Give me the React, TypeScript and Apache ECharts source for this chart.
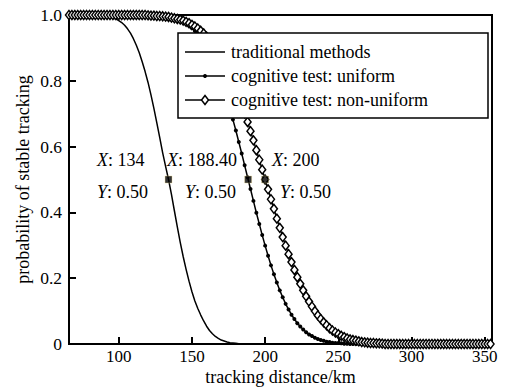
import React, { useEffect, useRef } from "react";
import * as echarts from "echarts";

// Sampling distances (km) of the two marker curves
const distances = [
  66, 68, 70, 72, 74, 76, 78, 80, 82, 84, 86, 88, 90, 92, 94, 96, 98, 100, 102, 104,
  106, 108, 110, 112, 114, 116, 118, 120, 122, 124, 126, 128, 130, 132, 134, 136, 138, 140, 142, 144,
  146, 148, 150, 152, 154, 156, 158, 160, 162, 164, 166, 168, 170, 172, 174, 176, 178, 180, 182, 184,
  186, 188, 190, 192, 194, 196, 198, 200, 202, 204, 206, 208, 210, 212, 214, 216, 218, 220, 222, 224,
  226, 228, 230, 232, 234, 236, 238, 240, 242, 244, 246, 248, 250, 252, 254, 256, 258, 260, 262, 264,
  266, 268, 270, 272, 274, 276, 278, 280, 282, 284, 286, 288, 290, 292, 294, 296, 298, 300, 302, 304,
  306, 308, 310, 312, 314, 316, 318, 320, 322, 324, 326, 328, 330, 332, 334, 336, 338, 340, 342, 344,
  346, 348, 350, 352, 354,
];

// cognitive test: uniform
const uniformValues = [
  1, 1, 1, 1, 1, 1, 1, 1, 1, 1, 1, 1, 1, 1, 1, 1, 1, 1, 1, 1,
  1, 1, 1, 1, 1, 1, 1, 0.999, 0.999, 0.998, 0.998, 0.997, 0.996, 0.995, 0.993, 0.991, 0.989, 0.986, 0.983, 0.978,
  0.973, 0.967, 0.96, 0.951, 0.941, 0.93, 0.917, 0.902, 0.885, 0.866, 0.846, 0.823, 0.798, 0.772, 0.744, 0.714, 0.682, 0.649, 0.614, 0.579,
  0.543, 0.507, 0.471, 0.435, 0.399, 0.365, 0.331, 0.299, 0.268, 0.239, 0.212, 0.187, 0.163, 0.142, 0.122, 0.105, 0.089, 0.076, 0.063, 0.053,
  0.044, 0.036, 0.029, 0.024, 0.019, 0.015, 0.012, 0.01, 0.007, 0.006, 0.004, 0.003, 0.003, 0.002, 0.001, 0.001, 0, 0, 0, 0,
  0, 0, 0, 0, 0, 0, 0, 0, 0, 0, 0, 0, 0, 0, 0, 0, 0, 0, 0, 0,
  0, 0, 0, 0, 0, 0, 0, 0, 0, 0, 0, 0, 0, 0, 0, 0, 0, 0, 0, 0,
  0, 0, 0, 0, 0,
];

// cognitive test: non-uniform
const nonUniformValues = [
  1, 1, 1, 1, 1, 1, 1, 1, 1, 1, 1, 1, 1, 1, 1, 1, 1, 1, 1, 1,
  1, 1, 1, 1, 1, 1, 1, 0.999, 0.998, 0.998, 0.997, 0.997, 0.996, 0.995, 0.994, 0.992, 0.99, 0.988, 0.986, 0.983,
  0.979, 0.975, 0.97, 0.965, 0.959, 0.952, 0.944, 0.934, 0.924, 0.913, 0.9, 0.886, 0.871, 0.855, 0.837, 0.817, 0.797, 0.775, 0.751, 0.727,
  0.701, 0.675, 0.647, 0.619, 0.589, 0.56, 0.53, 0.5, 0.47, 0.44, 0.411, 0.381, 0.353, 0.325, 0.299, 0.273, 0.249, 0.225, 0.203, 0.183,
  0.163, 0.145, 0.129, 0.114, 0.1, 0.087, 0.076, 0.066, 0.057, 0.048, 0.041, 0.035, 0.03, 0.025, 0.021, 0.017, 0.014, 0.012, 0.01, 0.008,
  0.006, 0.005, 0.004, 0.003, 0.003, 0.002, 0.002, 0.001, 0, 0, 0, 0, 0, 0, 0, 0, 0, 0, 0, 0,
  0, 0, 0, 0, 0, 0, 0, 0, 0, 0, 0, 0, 0, 0, 0, 0, 0, 0, 0, 0,
  0, 0, 0, 0, 0,
];

// traditional methods (line only)
const traditionalDistances = [
  66, 84, 86, 88, 90, 92, 94, 96, 98, 100, 102, 104, 106, 108, 110, 112, 114, 116, 118, 120,
  122, 124, 126, 128, 130, 132, 134, 136, 138, 140, 142, 144, 146, 148, 150, 152, 154, 156, 158, 160,
  162, 164, 166, 168, 170, 172, 174, 176, 178, 180, 182, 184, 354,
];
const traditionalValues = [
  1, 1, 0.999, 0.998, 0.997, 0.996, 0.994, 0.991, 0.988, 0.983, 0.977, 0.969, 0.958, 0.945, 0.928, 0.908, 0.885, 0.858, 0.828, 0.795,
  0.757, 0.716, 0.672, 0.627, 0.581, 0.54, 0.5, 0.455, 0.405, 0.356, 0.309, 0.266, 0.227, 0.191, 0.159, 0.131, 0.108, 0.088, 0.07, 0.054,
  0.041, 0.031, 0.023, 0.017, 0.012, 0.009, 0.006, 0.004, 0.003, 0.002, 0.001, 0, 0,
];

// Data tips
const tipX = [134, 188.4, 200];
const tipY = [0.5, 0.5, 0.5];
const tipXLabels = ["134", "188.40", "200"];
const tipYLabels = ["0.50", "0.50", "0.50"];

const seriesNames = ["traditional methods", "cognitive test: uniform", "cognitive test: non-uniform"];
const xTickValues = [100, 150, 200, 250, 300, 350];
const yTickValues = [0, 0.2, 0.4, 0.6, 0.8, 1.0];

const FONT = "Liberation Serif";
const FS = 18;
const TICK_FS = 17.5;

export default function App() {
  const ref = useRef<HTMLDivElement>(null);

  useEffect(() => {
    if (!ref.current) return;
    const chart = echarts.init(ref.current, null, { renderer: "svg" });

    const pair = (xs: number[], ys: number[]) => xs.map((x, i) => [x, ys[i]]);

    const tipTextPos = [
      { x1: 97, x2: 97 },
      { x1: 167, x2: 185 },
      { x1: 272, x2: 280 },
    ];
    const rich = {
      i: { fontStyle: "italic", fontSize: FS, fontFamily: FONT, fill: "#000" },
      n: { fontSize: FS, fontFamily: FONT, fill: "#000" },
    };
    const graphics: any[] = [];
    tipXLabels.forEach((lab, i) => {
      graphics.push({
        type: "text",
        z: 20,
        x: tipTextPos[i].x1,
        y: 160,
        style: {
          text: `{i|X}{n|: ${lab}}`,
          rich,
          verticalAlign: "middle",
          fontSize: FS,
          fontFamily: FONT,
        },
      });
      graphics.push({
        type: "text",
        z: 20,
        x: tipTextPos[i].x2,
        y: 192,
        style: {
          text: `{i|Y}{n|: ${tipYLabels[i]}}`,
          rich,
          verticalAlign: "middle",
          fontSize: FS,
          fontFamily: FONT,
        },
      });
    });

    // Legend box (drawn by hand to match the boxed MATLAB-style legend)
    const legendRows = [52, 76, 100];
    graphics.push({
      type: "rect",
      z: 10,
      shape: { x: 178, y: 33, width: 310, height: 85 },
      style: { fill: "#fff", stroke: "#000", lineWidth: 1.5 },
    });
    legendRows.forEach((ry, i) => {
      graphics.push({
        type: "line",
        z: 11,
        shape: { x1: 185, y1: ry, x2: 225, y2: ry },
        style: { stroke: "#000", lineWidth: 1.5 },
      });
      graphics.push({
        type: "text",
        z: 11,
        x: 231,
        y: ry,
        style: {
          text: seriesNames[i],
          fontSize: FS,
          fontFamily: FONT,
          fill: "#000",
          verticalAlign: "middle",
        },
      });
    });
    graphics.push({
      type: "circle",
      z: 12,
      shape: { cx: 205, cy: legendRows[1], r: 2 },
      style: { fill: "#000" },
    });
    graphics.push({
      type: "polygon",
      z: 12,
      shape: {
        points: [
          [205, legendRows[2] - 4.5],
          [208.5, legendRows[2]],
          [205, legendRows[2] + 4.5],
          [201.5, legendRows[2]],
        ],
      },
      style: { fill: "#fff", stroke: "#000", lineWidth: 1.5 },
    });

    chart.setOption({
      animation: false,
      backgroundColor: "#fff",
      textStyle: { fontFamily: FONT },
      grid: {
        left: 69,
        right: 13,
        top: 15,
        bottom: 45,
        containLabel: false,
        outerBoundsMode: "none",
        show: true,
        borderColor: "#000",
        borderWidth: 2,
        backgroundColor: "transparent",
      },
      xAxis: {
        type: "value",
        min: 66,
        max: 355,
        name: "tracking distance/km",
        nameLocation: "middle",
        nameGap: 24,
        nameMoveOverlap: false,
        nameTextStyle: { fontSize: FS, fontFamily: FONT, color: "#000", verticalAlign: "top", lineHeight: 18 },
        axisLine: { show: true, lineStyle: { color: "#000", width: 2 } },
        axisTick: {
          show: true,
          inside: true,
          length: 7,
          customValues: xTickValues,
          lineStyle: { color: "#000", width: 2 },
        },
        axisLabel: {
          customValues: xTickValues,
          fontSize: 17,
          lineHeight: 17,
          fontFamily: FONT,
          color: "#000",
          margin: 4,
        },
        splitLine: { show: false },
      },
      yAxis: {
        type: "value",
        min: 0,
        max: 1,
        interval: 0.2,
        name: "probability of stable tracking",
        nameLocation: "middle",
        nameGap: 37,
        nameMoveOverlap: false,
        nameTextStyle: { fontSize: FS, fontFamily: FONT, color: "#000" },
        axisLine: { show: true, lineStyle: { color: "#000", width: 2 } },
        axisTick: {
          show: true,
          inside: true,
          length: 7,
          customValues: yTickValues,
          lineStyle: { color: "#000", width: 2 },
        },
        axisLabel: {
          customValues: yTickValues,
          fontSize: TICK_FS,
          fontFamily: FONT,
          color: "#000",
          margin: 7,
          formatter: (v: number) => (Math.abs(v) < 1e-9 ? "0" : v.toFixed(1)),
        },
        splitLine: { show: false },
      },
      graphic: graphics,
      series: [
        {
          name: seriesNames[0],
          type: "line",
          data: pair(traditionalDistances, traditionalValues),
          symbol: "none",
          lineStyle: { color: "#000", width: 1.5 },
          itemStyle: { color: "#000" },
          z: 2,
        },
        {
          name: seriesNames[1],
          type: "line",
          data: pair(distances, uniformValues),
          symbol: "circle",
          symbolSize: 4,
          showSymbol: true,
          showAllSymbol: true,
          clip: false,
          lineStyle: { color: "#000", width: 1.5 },
          itemStyle: { color: "#000" },
          z: 3,
        },
        {
          name: seriesNames[2],
          type: "line",
          data: pair(distances, nonUniformValues),
          symbol: "diamond",
          symbolSize: [7, 9],
          showSymbol: true,
          showAllSymbol: true,
          clip: false,
          lineStyle: { color: "#000", width: 1.5 },
          itemStyle: { color: "#fff", borderColor: "#000", borderWidth: 1.5 },
          z: 4,
        },
        {
          name: "data tips",
          type: "scatter",
          data: pair(tipX, tipY),
          symbol: "rect",
          symbolSize: 7,
          itemStyle: { color: "#000", borderColor: "#e8d890", borderWidth: 0.5 },
          z: 8,
        },
      ],
    });

    return () => chart.dispose();
  }, []);

  return (
    <div
      ref={ref}
      style={{ position: "fixed", left: 0, top: 0, width: 505, height: 389 }}
    />
  );
}
